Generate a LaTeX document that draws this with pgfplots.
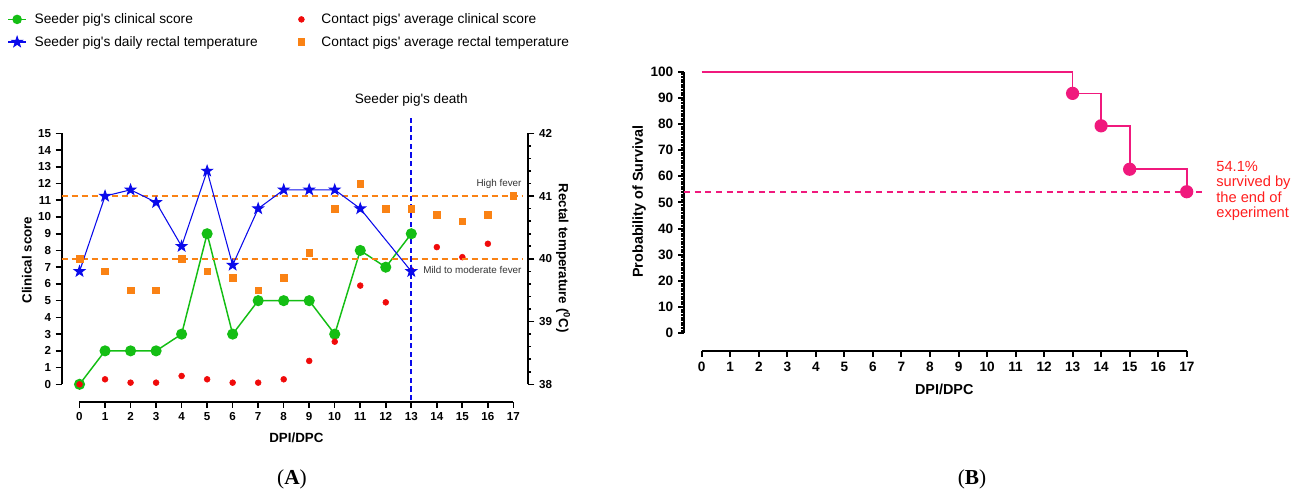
\documentclass[border=0pt]{standalone}
\usepackage{pgfplots}
\pgfplotsset{compat=1.18}
\usepackage{fontspec}
\setmainfont{Liberation Sans}
\newfontfamily\seriffont{Liberation Serif}
\definecolor{cgreen}{RGB}{20,190,20}
\definecolor{cblue}{RGB}{10,10,235}
\definecolor{cred}{RGB}{240,10,10}
\definecolor{corange}{RGB}{250,130,20}
\definecolor{cpink}{RGB}{240,25,125}
\definecolor{ctext}{RGB}{255,30,30}
\newcommand{\fs}[1]{\fontsize{#1}{#1}\selectfont}
\newcommand{\q}{\textquotesingle}
\pgfdeclareplotmark{fstar}{%
  \pgfpathmoveto{\pgfpointpolar{90}{\pgfplotmarksize}}%
  \pgfpathlineto{\pgfpointpolar{126}{0.4\pgfplotmarksize}}%
  \pgfpathlineto{\pgfpointpolar{162}{\pgfplotmarksize}}%
  \pgfpathlineto{\pgfpointpolar{198}{0.4\pgfplotmarksize}}%
  \pgfpathlineto{\pgfpointpolar{234}{\pgfplotmarksize}}%
  \pgfpathlineto{\pgfpointpolar{270}{0.4\pgfplotmarksize}}%
  \pgfpathlineto{\pgfpointpolar{306}{\pgfplotmarksize}}%
  \pgfpathlineto{\pgfpointpolar{342}{0.4\pgfplotmarksize}}%
  \pgfpathlineto{\pgfpointpolar{18}{\pgfplotmarksize}}%
  \pgfpathlineto{\pgfpointpolar{54}{0.4\pgfplotmarksize}}%
  \pgfpathclose\pgfusepathqfillstroke}
\pgfplotsset{
  base/.style={scale only axis, anchor=south west, clip=false,
    /pgf/number format/assume math mode=true,
    tick label style={font=\bfseries\fs{8.7}},
    label style={font=\bfseries\fs{10}},
    axis line style={-, line width=1.4pt, black},
    every tick/.style={black, line width=1.2pt},
    major tick length=4.5pt, minor tick length=2pt,
    tick align=outside,
  },
  widemark/.style={legend image code/.code={\draw[mark repeat=2,mark phase=2] plot coordinates {(0cm,0cm)(0.23cm,0cm)(0.46cm,0cm)}; \path (0.54cm,0cm);}},
}
\begin{document}
\begin{tikzpicture}
\path (0,0) rectangle (975.75pt,371.25pt);
% ---------- Panel A: clinical score axis
\begin{axis}[base, at={(46.3pt,83.0pt)}, width=349.95pt, height=188.25pt,
  xmin=-0.6975, xmax=17.586, ymin=0, ymax=15,
  axis x line=none, axis y line*=left, ytick={0,1,...,15},
  ylabel={Clinical score},
  ylabel style={at={(axis description cs:-0.075,0.495)}, anchor=center}]
\addplot[color=cgreen, line width=1.1pt, mark=*, mark size=3.6pt] coordinates {
(0,0)(1,2)(2,2)(3,2)(4,3)(5,9)(6,3)(7,5)(8,5)(9,5)(10,3)(11,8)(12,7)(13,9)};
\addplot[color=cred, only marks, mark=*, mark size=2.2pt] coordinates {
(0,0)(1,0.3)(2,0.1)(3,0.1)(4,0.5)(5,0.3)(6,0.1)(7,0.1)(8,0.3)(9,1.4)(10,2.55)(11,5.9)(12,4.9)(13,6.8)(14,8.2)(15,7.6)(16,8.4)};
\addplot[color=cblue, line width=1.3pt, dash pattern=on 4pt off 2.5pt] coordinates {(13,-0.95)(13,16)};
\node[font=\fs{10.2}] at (axis cs:13,16.99) {Seeder pig\q s death};
\end{axis}
% ---------- Panel A: rectal temperature axis
\begin{axis}[base, at={(46.3pt,83.0pt)}, width=349.95pt, height=188.25pt,
  xmin=-0.6975, xmax=17.586, ymin=38, ymax=42,
  axis x line=none, axis y line*=right, ytick={38,39,40,41,42}, minor y tick num=4,
  ylabel={Rectal temperature (\textsuperscript{0}C)},
  ylabel style={at={(axis description cs:1.0744,0.503)}, anchor=center, rotate=180},
  legend style={at={(axis description cs:-0.125,1.5)}, anchor=north west, draw=none, fill=none,
    font=\fs{10.3}, legend columns=2,
    /tikz/every odd column/.append style={column sep=4pt},
    /tikz/every even column/.append style={column sep=28.2pt}, row sep=4pt},
  legend cell align=left,
  legend image code/.code={\draw[mark repeat=2,mark phase=2] plot coordinates {(0cm,0cm)(0.23cm,0cm)(0.46cm,0cm)};}]
\addlegendimage{color=cgreen, line width=1.1pt, mark=*, mark size=3pt}
\addlegendentry{Seeder pig\q s clinical score}
\addlegendimage{color=cred, only marks, mark=*, mark size=2.2pt, widemark}
\addlegendentry{Contact pigs\q\ average clinical score}
\addplot[color=corange, line width=1.1pt, dash pattern=on 4.5pt off 3pt, forget plot] coordinates {(-0.6975,41)(17.38,41)};
\addplot[color=corange, line width=1.1pt, dash pattern=on 4.5pt off 3pt, forget plot] coordinates {(-0.6975,40)(17.38,40)};
\addplot[color=cblue, line width=0.8pt, mark=fstar, mark size=4pt] coordinates {
(0,39.8)(1,41.0)(2,41.1)(3,40.9)(4,40.2)(5,41.4)(6,39.9)(7,40.8)(8,41.1)(9,41.1)(10,41.1)(11,40.8)(13,39.8)};
\addlegendentry{Seeder pig\q s daily rectal temperature}
\addplot[color=corange, only marks, mark=square*, mark size=2.5pt, widemark] coordinates {
(0,40.0)(1,39.8)(2,39.5)(3,39.5)(4,40.0)(5,39.8)(6,39.7)(7,39.5)(8,39.7)(9,40.1)(10,40.8)(11,41.2)(12,40.8)(13,40.8)(14,40.7)(15,40.6)(16,40.7)(17,41.0)};
\addlegendentry{Contact pigs\q\ average rectal temperature}
\node[font=\fs{7.4}, text=black!80, anchor=east, inner sep=1pt] at (axis cs:17.38,41.19) {High fever};
\node[font=\fs{7.4}, text=black!80, anchor=east, inner sep=1pt] at (axis cs:17.38,39.83) {Mild to moderate fever};
\end{axis}
% ---------- Panel A: x axis
\begin{axis}[base, at={(59.6pt,70.0pt)}, width=325.4pt, height=1pt,
  xmin=0, xmax=17, ymin=0, ymax=1, axis y line=none, axis x line*=bottom,
  xtick={0,1,...,17}, xlabel={DPI/DPC},
  xlabel style={at={(axis description cs:0.5,0)}, anchor=center, yshift=-27pt}]
\end{axis}
% ---------- Panel B: survival
\begin{axis}[base, at={(513.0pt,121.3pt)}, width=392.0pt, height=196.2pt,
  xmin=-0.62, xmax=17.70, ymin=0, ymax=100,
  axis x line=none, axis y line*=left, ytick={0,10,...,100}, minor y tick num=9,
  axis line style={line width=2pt}, every tick/.style={black, line width=1.5pt},
  tick label style={font=\bfseries\fs{10.2}}, label style={font=\bfseries\fs{10.8}},
  ylabel={Probability of Survival},
  ylabel style={at={(axis description cs:-0.086,0.503)}, anchor=center}]
\addplot[color=cpink, line width=1.3pt, const plot, mark=*, mark size=4.3pt, mark indices={2,3,4,5}] coordinates {
(0,100)(13,91.7)(14,79.3)(15,62.7)(17,54.1)};
\addplot[color=cpink, line width=1.4pt, dash pattern=on 4.5pt off 3.5pt] coordinates {(-0.62,54.1)(17.7,54.1)};
\node[font=\fontsize{11}{11.6}\selectfont, text=ctext, anchor=west, align=left, inner sep=0pt] at (axis cs:18.03,54.4)
  {54.1\%\\survived by\\the end of\\experiment};
\end{axis}
% ---------- Panel B: x axis
\begin{axis}[base, at={(526.3pt,108.0pt)}, width=363.8pt, height=1pt,
  xmin=0, xmax=17, ymin=0, ymax=1, axis y line=none, axis x line*=bottom,
  axis line style={line width=2pt}, every tick/.style={black, line width=1.5pt},
  tick label style={font=\bfseries\fs{10.2}}, label style={font=\bfseries\fs{10.8}},
  xtick={0,1,...,17}, xlabel={DPI/DPC},
  xlabel style={at={(axis description cs:0.5,0)}, anchor=center, yshift=-29pt}]
\end{axis}
\node[font=\seriffont\fs{16}] at (219pt,12pt) {(\textbf{A})};
\node[font=\seriffont\fs{16}] at (729pt,12pt) {(\textbf{B})};
\end{tikzpicture}
\end{document}
